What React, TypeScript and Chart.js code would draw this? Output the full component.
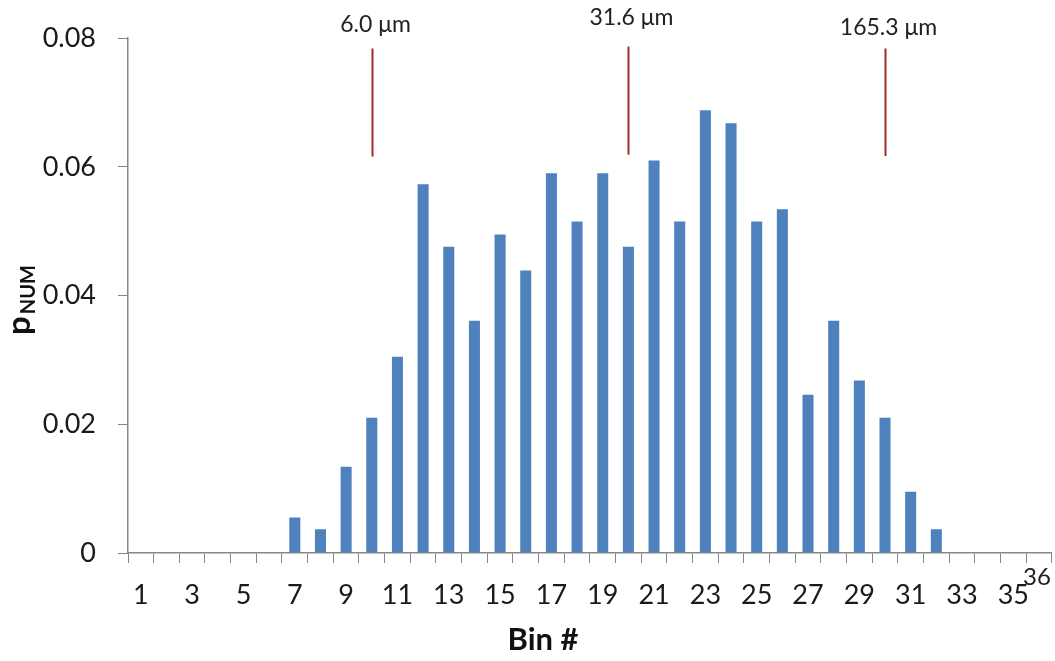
import React, { useEffect, useRef } from 'react';
import { Chart, registerables } from 'chart.js';

Chart.register(...registerables);

const binLabels = [
  '1', '2', '3', '4', '5', '6', '7', '8', '9', '10', '11', '12',
  '13', '14', '15', '16', '17', '18', '19', '20', '21', '22', '23', '24',
  '25', '26', '27', '28', '29', '30', '31', '32', '33', '34', '35', '36',
];

const pNum = [
  0, 0, 0, 0, 0, 0, 0.0055, 0.0037, 0.0134, 0.021, 0.0305, 0.0573,
  0.0476, 0.0361, 0.0495, 0.0439, 0.059, 0.0515, 0.059, 0.0476, 0.061, 0.0515, 0.0688, 0.0668,
  0.0515, 0.0534, 0.0246, 0.0361, 0.0268, 0.021, 0.0095, 0.0037, 0, 0, 0, 0,
];

const yTicks = [0, 0.02, 0.04, 0.06, 0.08];

const markerBins = ['10', '20', '30'];
const markerLabels = ['6.0 \u03bcm', '31.6 \u03bcm', '165.3 \u03bcm'];
const markerTop = [0.0784, 0.0787, 0.0784];
const markerBottom = [0.0616, 0.0619, 0.0617];

const FONT = 'Lato, "Open Sans", sans-serif';
const AXIS_GRAY = '#868686';
const MARKER_RED = '#A32A2C';
const LABEL_GAP = [24, 29, 21];

const overlayPlugin = {
  id: 'overlay',
  afterDraw(chart: any) {
    const ctx = chart.ctx;
    const xs = chart.scales.x;
    const ys = chart.scales.y;
    ctx.save();
    // marker lines & labels
    markerBins.forEach((b, i) => {
      const x = Math.round(xs.getPixelForValue(binLabels.indexOf(b))) + 0.5;
      const y1 = ys.getPixelForValue(markerTop[i]);
      const y2 = ys.getPixelForValue(markerBottom[i]);
      ctx.strokeStyle = MARKER_RED;
      ctx.lineWidth = 2;
      ctx.beginPath();
      ctx.moveTo(x, y1);
      ctx.lineTo(x, y2);
      ctx.stroke();
      ctx.fillStyle = '#222';
      ctx.font = `23px ${FONT}`;
      ctx.textAlign = 'center';
      ctx.textBaseline = 'middle';
      ctx.fillText(markerLabels[i], x + 3, y1 - LABEL_GAP[i]);
    });
    // raised last category label
    const lastIdx = binLabels.length - 1;
    ctx.fillStyle = '#222';
    ctx.font = `24px ${FONT}`;
    ctx.textAlign = 'center';
    ctx.textBaseline = 'middle';
    ctx.fillText(binLabels[lastIdx], xs.getPixelForValue(lastIdx) - 2, chart.chartArea.bottom + 24);
    // x title
    ctx.font = `bold 31px ${FONT}`;
    ctx.fillStyle = '#111';
    ctx.fillText('Bin #', 543, 640);
    // y title with subscript
    ctx.translate(30, 335);
    ctx.rotate(-Math.PI / 2);
    ctx.textAlign = 'left';
    ctx.textBaseline = 'alphabetic';
    ctx.font = `bold 33px ${FONT}`;
    ctx.fillText('p', 0, 0);
    const pw = ctx.measureText('p').width;
    ctx.font = `bold 20px ${FONT}`;
    ctx.fillText('NUM', pw + 2, 5);
    ctx.restore();
  },
};

export default function App() {
  const canvasRef = useRef<HTMLCanvasElement>(null);

  useEffect(() => {
    const canvas = canvasRef.current;
    if (!canvas) return;
    const chart = new Chart(canvas, {
      type: 'bar',
      data: {
        labels: binLabels,
        datasets: [
          {
            data: pNum,
            backgroundColor: '#4F81BD',
            borderWidth: 0,
            barPercentage: 0.43,
            categoryPercentage: 1,
          },
        ],
      },
      options: {
        animation: false,
        responsive: true,
        maintainAspectRatio: false,
        layout: { padding: { top: 38, right: 2, left: 0, bottom: 0 } },
        plugins: {
          legend: { display: false },
          tooltip: { enabled: false },
          title: { display: false },
        },
        scales: {
          x: {
            type: 'category',
            offset: true,
            afterFit: (scale: any) => {
              scale.height = 108;
            },
            grid: {
              offset: true,
              drawOnChartArea: false,
              drawTicks: true,
              tickLength: 10,
              color: AXIS_GRAY,
              lineWidth: 1,
            },
            border: { display: true, color: AXIS_GRAY, width: 1.5 },
            ticks: {
              autoSkip: false,
              maxRotation: 0,
              minRotation: 0,
              padding: 16,
              color: '#1a1a1a',
              font: { family: FONT, size: 27 },
              callback: (_v: any, i: number) =>
                i % 2 === 0 && i < binLabels.length - 1 ? binLabels[i] : '',
            },
          },
          y: {
            min: 0,
            max: 0.08,
            afterFit: (scale: any) => {
              scale.width = 128;
            },
            afterBuildTicks: (scale: any) => {
              scale.ticks = yTicks.map((v) => ({ value: v }));
            },
            grid: {
              drawOnChartArea: false,
              drawTicks: true,
              tickLength: 10,
              color: AXIS_GRAY,
              lineWidth: 1,
            },
            border: { display: true, color: AXIS_GRAY, width: 1.5 },
            ticks: {
              padding: 22,
              color: '#1a1a1a',
              font: { family: FONT, size: 27 },
              callback: (v: any) => (v === 0 ? '0' : Number(v).toFixed(2)),
            },
          },
        },
      },
      plugins: [overlayPlugin],
    });
    return () => chart.destroy();
  }, []);

  return (
    <div style={{ position: 'absolute', left: 0, top: 0, width: 1055, height: 661, background: '#fff' }}>
      <canvas ref={canvasRef} />
    </div>
  );
}
